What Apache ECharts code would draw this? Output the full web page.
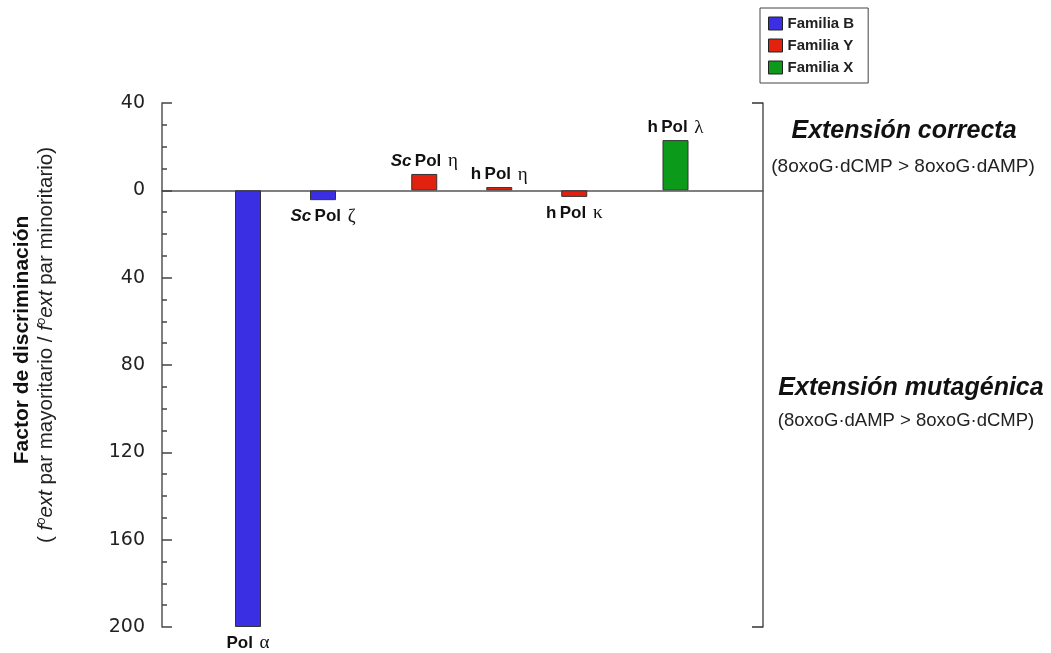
<!DOCTYPE html>
<html>
<head>
<meta charset="utf-8">
<script src="https://cdn.jsdelivr.net/npm/echarts@6/dist/echarts.min.js"></script>
<style>
  html, body { margin: 0; padding: 0; background: #fff; }
  #chart { width: 1051px; height: 653px; }
</style>
</head>
<body>
<div id="chart"></div>
<script>
// Polymerases, their family and discrimination factor (negative = mutagenic extension)
const polymerases = ['Pol α', 'Sc Pol ζ', 'Sc Pol η', 'h Pol η', 'h Pol κ', 'h Pol λ'];
const polFamily   = ['Familia B', 'Familia B', 'Familia Y', 'Familia Y', 'Familia Y', 'Familia X'];
const discrimination = [-200, -4.5, 7.5, 1.5, -3, 23];
const familyNames = ['Familia B', 'Familia Y', 'Familia X'];
const familyColors = ['#3a2fe2', '#e2220e', '#0b9a1a'];

// Slot of each bar along the x axis: one unit per bar, plus a gap between families
const FAMILY_GAP = 0.35;
const slots = [];
{
  let s = 0;
  polymerases.forEach((p, i) => {
    if (i > 0) s += 1 + (polFamily[i] !== polFamily[i - 1] ? FAMILY_GAP : 0);
    slots.push(s);
  });
}

const font = '"Liberation Sans", Arial, Helvetica, sans-serif';

function labelText(name) {
  const parts = name.split(' ');
  const greek = parts.pop();
  const pieces = [];
  parts.forEach(p => pieces.push(p === 'Sc' ? '{it|Sc}' : '{b|' + p + '}'));
  return pieces.join(' ') + '  {g|' + greek + '}';
}

const labelRich = {
  it: { fontFamily: font, fontWeight: 'bold', fontStyle: 'italic', fontSize: 17, color: '#111' },
  b:  { fontFamily: font, fontWeight: 'bold', fontSize: 17, color: '#111' },
  g:  { fontFamily: '"Liberation Serif", serif', fontSize: 19, color: '#111' }
};

const series = familyNames.map((fam, fi) => ({
  name: fam,
  type: 'bar',
  barWidth: 26,
  barGap: '-100%',
  yAxisIndex: 0,
  itemStyle: { color: familyColors[fi], borderColor: '#333', borderWidth: 1 },
  data: polymerases.map((p, i) => ({ p, i })).filter(d => polFamily[d.i] === fam).map(d => ({
    name: d.p,
    value: [slots[d.i], discrimination[d.i]],
    label: {
      show: true,
      position: discrimination[d.i] >= 0 ? 'top' : 'bottom',
      distance: discrimination[d.i] >= 0 ? 3 : 7,
      formatter: () => labelText(d.p),
      rich: labelRich
    }
  }))
}));

const chart = echarts.init(document.getElementById('chart'), null, { renderer: 'canvas' });

const UNIT_PX = 75;
const gridLeft = 162, gridRight = 288;
const plotWidth = 1051 - gridLeft - gridRight;
const xMin = -86 / UNIT_PX;
const xMax = xMin + plotWidth / UNIT_PX;

chart.setOption({
  animation: false,
  backgroundColor: '#fff',
  grid: { left: gridLeft, right: gridRight, top: 103, bottom: 26, containLabel: false },
  legend: {
    orient: 'vertical',
    left: 760,
    top: 8,
    padding: [8, 14, 8, 8],
    borderColor: '#444',
    borderWidth: 1,
    itemWidth: 14,
    itemHeight: 13,
    itemGap: 7,
    icon: 'rect',
    itemStyle: { borderColor: '#222', borderWidth: 1 },
    textStyle: { fontFamily: font, fontWeight: 'bold', fontSize: 15, color: '#222' },
    data: familyNames
  },
  xAxis: {
    type: 'value',
    min: xMin,
    max: xMax,
    axisLine: { show: true, onZero: true, lineStyle: { color: '#555', width: 1.5 } },
    axisTick: { show: false },
    axisLabel: { show: false },
    splitLine: { show: false }
  },
  yAxis: [{
    type: 'value',
    min: -200,
    max: 40,
    interval: 40,
    axisLine: { show: true, onZero: false, lineStyle: { color: '#555', width: 1.5 } },
    axisTick: { show: true, inside: true, length: 10, lineStyle: { color: '#444', width: 1.5 } },
    minorTick: { show: true, splitNumber: 4, length: 5, lineStyle: { color: '#444', width: 1.5 } },
    axisLabel: {
      formatter: v => String(Math.abs(v)),
      margin: 17,
      fontFamily: '"DejaVu Sans", Verdana, sans-serif',
      fontSize: 19,
      color: '#222'
    },
    splitLine: { show: false }
  }, {
    type: 'value',
    position: 'right',
    min: -200,
    max: 40,
    interval: 240,
    axisLine: { show: true, onZero: false, lineStyle: { color: '#555', width: 1.5 } },
    axisTick: { show: true, inside: true, length: 11, lineStyle: { color: '#333', width: 1.5 } },
    axisLabel: { show: false },
    splitLine: { show: false }
  }],
  series: series,
  graphic: [
    {
      type: 'text', x: 22, y: 340, rotation: Math.PI / 2,
      style: {
        text: 'Factor de discriminación',
        font: 'bold 21px ' + font, fill: '#111',
        align: 'center', verticalAlign: 'middle'
      }
    },
    {
      type: 'text', x: 46, y: 345, rotation: Math.PI / 2,
      style: {
        text: '( {i|f}{s|o}{i|ext} par mayoritario / {i|f}{s|o}{i|ext} par minoritario)',
        font: '20.5px ' + font, fill: '#222',
        align: 'center', verticalAlign: 'middle',
        rich: {
          i: { fontFamily: font, fontStyle: 'italic', fontSize: 20.5, fill: '#222' },
          s: { fontFamily: font, fontStyle: 'italic', fontSize: 13, fill: '#222', verticalAlign: 'top', padding: [0, 0, 9, 0] }
        }
      }
    },
    {
      type: 'text', x: 904, y: 131,
      style: { text: 'Extensión correcta', font: 'italic bold 25px ' + font, fill: '#111', align: 'center', verticalAlign: 'middle' }
    },
    {
      type: 'text', x: 903, y: 167,
      style: { text: '(8oxoG·dCMP > 8oxoG·dAMP)', font: '19px ' + font, fill: '#222', align: 'center', verticalAlign: 'middle' }
    },
    {
      type: 'text', x: 911, y: 388,
      style: { text: 'Extensión mutagénica', font: 'italic bold 25px ' + font, fill: '#111', align: 'center', verticalAlign: 'middle' }
    },
    {
      type: 'text', x: 906, y: 421,
      style: { text: '(8oxoG·dAMP > 8oxoG·dCMP)', font: '18.5px ' + font, fill: '#222', align: 'center', verticalAlign: 'middle' }
    }
  ]
});
</script>
</body>
</html>
